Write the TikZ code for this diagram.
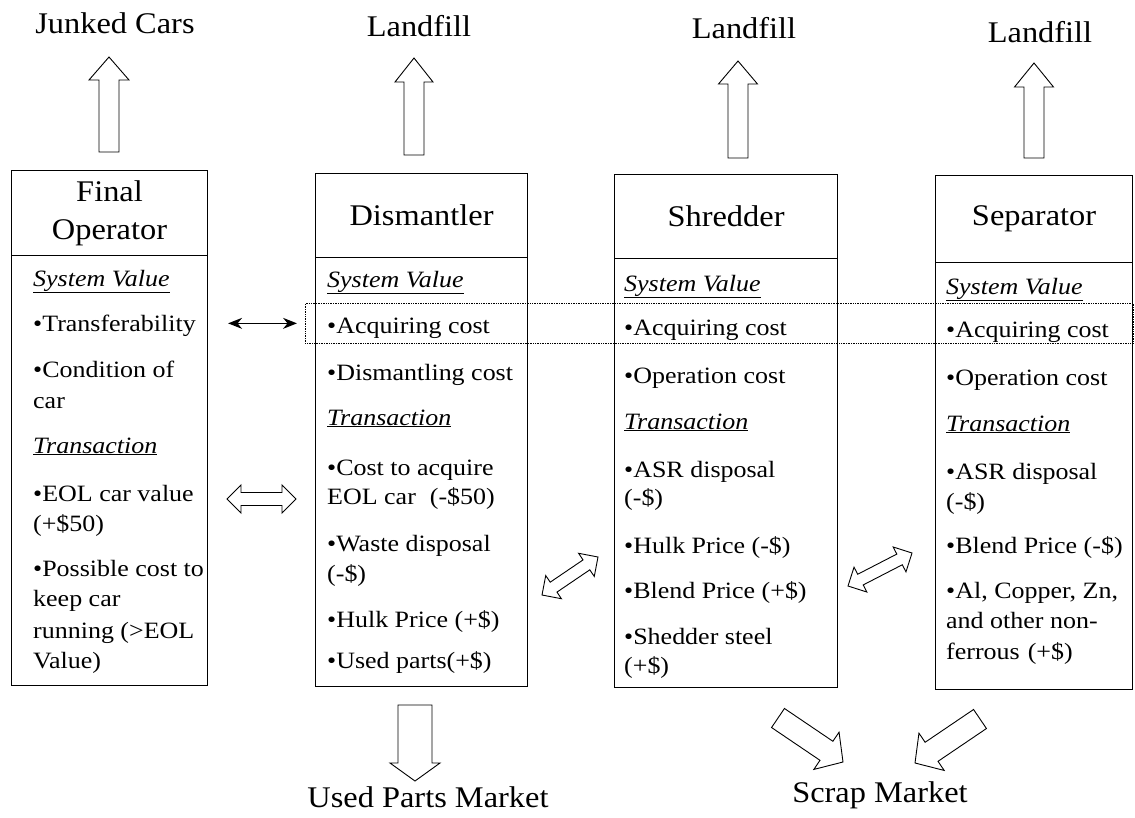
\documentclass[tikz,border=0pt]{standalone}
\usepackage{fontspec}
\setmainfont{Liberation Serif}[FakeStretch=1.08]
\newfontfamily\bodyfont{Liberation Serif}[FakeStretch=1.11]
\usetikzlibrary{calc,arrows.meta}

% hollow block arrow: tail, tip, shaft half-width, head half-width, head length
\newcommand{\hollowarrow}[5]{%
  \coordinate (ha-base) at ($(#2)!#5!(#1)$);
  \draw[blockarrow] ($(#1)!#3!90:(#2)$) -- ($(ha-base)!#3!90:(#2)$)
    -- ($(ha-base)!#4!90:(#2)$) -- (#2) -- ($(ha-base)!#4!-90:(#2)$)
    -- ($(ha-base)!#3!-90:(#2)$) -- ($(#1)!#3!-90:(#2)$) -- cycle;}

% hollow double-headed block arrow: end A, end B, shaft half-width, head half-width, head length
\newcommand{\hollowdouble}[5]{%
  \coordinate (hd-a) at ($(#1)!#5!(#2)$);
  \coordinate (hd-b) at ($(#2)!#5!(#1)$);
  \draw[blockarrow] (#1) -- ($(hd-a)!#4!90:(#2)$) -- ($(hd-a)!#3!90:(#2)$)
    -- ($(hd-b)!#3!-90:(#1)$) -- ($(hd-b)!#4!-90:(#1)$) -- (#2)
    -- ($(hd-b)!#4!90:(#1)$) -- ($(hd-b)!#3!90:(#1)$)
    -- ($(hd-a)!#3!-90:(#2)$) -- ($(hd-a)!#4!-90:(#2)$) -- cycle;}

\newcommand{\svhead}{\underline{\textit{System Value}}}
\newcommand{\trhead}{\underline{\textit{Transaction}}}

\begin{document}
\begin{tikzpicture}[x=1pt,y=-1pt,
  box/.style={draw, line width=1.1pt, anchor=north west, inner sep=0pt},
  head/.style={box, font=\fontsize{30}{38}\selectfont, align=center},
  big/.style={anchor=base, inner sep=0pt, font=\fontsize{30}{36}\selectfont},
  txt/.style={anchor=base west, inner sep=0pt, font=\bodyfont\fontsize{23.4}{30}\selectfont},
  blockarrow/.style={draw, fill=white, line width=0.9pt, line join=miter},
  thinlink/.style={line width=1.3pt, {Stealth[length=14pt,width=11pt]}-{Stealth[length=14pt,width=11pt]}},
  dotbox/.style={draw, densely dotted, line width=0.7pt, anchor=north west, inner sep=0pt}]

\useasboundingbox (0,0) rectangle (1135,817);

% ---- the four actors ----
\node[head, minimum width=196pt, minimum height=85pt] (fo-h) at (11,170) {Final\\Operator};
\node[box, minimum width=196pt, minimum height=430pt] (fo-b) at (11,255) {};

\node[head, minimum width=212pt, minimum height=84pt] (dm-h) at (315,173) {Dismantler};
\node[box, minimum width=212pt, minimum height=429pt] (dm-b) at (315,257) {};

\node[head, minimum width=223pt, minimum height=84pt] (sh-h) at (614,174) {Shredder};
\node[box, minimum width=223pt, minimum height=429pt] (sh-b) at (614,258) {};

\node[head, minimum width=197pt, minimum height=87pt] (se-h) at (935,175) {Separator};
\node[box, minimum width=197pt, minimum height=427pt] (se-b) at (935,262) {};

% ---- box contents ----
\foreach \yy/\tx [count=\i] in {286/\svhead, 331/•Transferability, 377/•Condition of,
  408/car, 453/\trhead, 501/•EOL car value, 531/(+\$50), 576/•Possible cost to,
  606/keep car, 638/running (>EOL, 668/Value)}
  {\node[txt] (fo-\i) at (33,\yy) {\tx};}

\foreach \yy/\tx [count=\i] in {287/\svhead, 333/•Acquiring cost, 380/•Dismantling cost,
  425/\trhead, 475/•Cost to acquire, 504/{EOL car\hspace{14pt}(-\$50)}, 551/•Waste disposal,
  581/(-\$), 627/•Hulk Price (+\$), 668/•Used parts(+\$)}
  {\node[txt] (dm-\i) at (327,\yy) {\tx};}

\foreach \yy/\tx [count=\i] in {291/\svhead, 335/•Acquiring cost, 383/•Operation cost,
  429/\trhead, 477/•ASR disposal, 505/(-\$), 553/•Hulk Price (-\$), 598/•Blend Price (+\$),
  644/•Shedder steel, 673/(+\$)}
  {\node[txt] (sh-\i) at (624,\yy) {\tx};}

\foreach \yy/\tx [count=\i] in {294/\svhead, 337/•Acquiring cost, 385/•Operation cost,
  431/\trhead, 479/•ASR disposal, 509/(-\$), 553/•Blend Price (-\$), 598/{•Al, Copper, Zn,},
  628/and other non-, 659/{ferrous\hspace{8pt}(+\$)}}
  {\node[txt] (se-\i) at (946,\yy) {\tx};}

% ---- acquiring-cost band across the chain ----
\node[dotbox, minimum width=828pt, minimum height=40pt] (acq) at (305,303) {};
\draw[thinlink] ($(fo-b.east |- acq.west)+(20,0)$) -- ($(acq.west)+(-8,0)$);

% ---- outputs ----
\node[big] (out-fo) at (115,33) {Junked Cars};
\node[big] (out-dm) at (419,36) {Landfill};
\node[big] (out-sh) at (744,38) {Landfill};
\node[big] (out-se) at (1040,42) {Landfill};
\node[big] (out-used) at (428,807) {Used Parts Market};
\node[big] (out-scrap) at (880,802) {Scrap Market};

\coordinate (up1-t) at (109,152);  \coordinate (up1-h) at (109,57);
\coordinate (up2-t) at (414,155);  \coordinate (up2-h) at (414,58);
\coordinate (up3-t) at (738,158);  \coordinate (up3-h) at (738,61);
\coordinate (up4-t) at (1034,158); \coordinate (up4-h) at (1034,63);
\hollowarrow{up1-t}{up1-h}{10pt}{20pt}{23pt}
\hollowarrow{up2-t}{up2-h}{10pt}{19pt}{24pt}
\hollowarrow{up3-t}{up3-h}{10pt}{19.5pt}{23pt}
\hollowarrow{up4-t}{up4-h}{10pt}{19.5pt}{24pt}

\coordinate (dn-t) at (415,705); \coordinate (dn-h) at (415,781);
\hollowarrow{dn-t}{dn-h}{17pt}{25pt}{18pt}

\coordinate (sc1-t) at (778,718); \coordinate (sc1-h) at (843,762);
\coordinate (sc2-t) at (980,719); \coordinate (sc2-h) at (915,763);
\hollowarrow{sc1-t}{sc1-h}{11.5pt}{22.5pt}{20pt}
\hollowarrow{sc2-t}{sc2-h}{11.5pt}{22.5pt}{20pt}

% ---- exchanges between neighbours ----
\coordinate (ex1-a) at (227,499); \coordinate (ex1-b) at (296,499);
\hollowdouble{ex1-a}{ex1-b}{6.5pt}{14pt}{14pt}
\coordinate (ex2-a) at (542,595); \coordinate (ex2-b) at (598,557);
\hollowdouble{ex2-a}{ex2-b}{6pt}{14pt}{14pt}
\coordinate (ex3-a) at (848,586); \coordinate (ex3-b) at (912,553);
\hollowdouble{ex3-a}{ex3-b}{6pt}{14pt}{14pt}
\end{tikzpicture}
\end{document}
